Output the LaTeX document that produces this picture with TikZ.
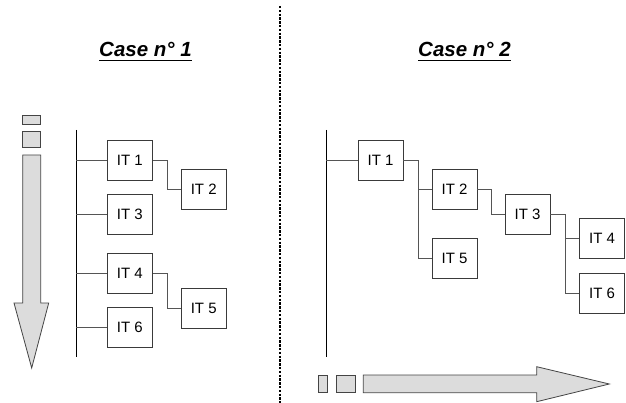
\documentclass[tikz,border=0pt]{standalone}
\usepackage{fontspec}
\setmainfont{Liberation Sans}
\definecolor{arrfill}{HTML}{DCDCDC}
\definecolor{arrline}{HTML}{444444}
\definecolor{boxline}{HTML}{3A3A3A}
\definecolor{conn}{HTML}{555555}
\begin{document}
\begin{tikzpicture}[x=1pt,y=-1pt,
  itbox/.style={draw=boxline, line width=0.9pt, minimum width=45pt, minimum height=40pt, inner sep=0pt, font=\fontsize{15}{16}\selectfont},
  wire/.style={draw=conn, line width=0.9pt},
  spine/.style={draw=black, line width=1pt},
  bigarrow/.style={draw=arrline, fill=arrfill, line width=0.8pt, line join=miter},
  title/.style={font=\fontsize{20.5}{22}\selectfont\bfseries\itshape, inner sep=0pt, anchor=base}
]
\useasboundingbox (0,0) rectangle (626,403);

% separator
\draw[black, line width=1.3pt, dash pattern=on 2.4pt off 1.4pt] (280,6) -- (280,403);

% titles
\node[title] (t1) at (145.5,57) {Case n° 1};
\node[title] (t2) at (464.5,57) {Case n° 2};
\draw[black, line width=1.4pt] ([yshift=-3.5pt]t1.base west) -- ([yshift=-3.5pt]t1.base east);
\draw[black, line width=1.4pt] ([yshift=-3.5pt]t2.base west) -- ([yshift=-3.5pt]t2.base east);

% ---------- Case 1 ----------
\draw[bigarrow] (22.7,115) rectangle (40.7,124);
\draw[bigarrow] (22.7,131) rectangle (40.7,147.7);
\draw[bigarrow] (22.7,155) -- (40.7,155) -- (40.7,303) -- (48.7,303) -- (31.7,368) -- (14,303) -- (22.7,303) -- cycle;

\coordinate (La) at (76,130);
\coordinate (Lb) at (76,357);
\draw[spine] (La) -- (Lb);

\node[itbox] (a1) at (129.8,160) {IT 1};
\node[itbox] (a2) at (203.7,189.5) {IT 2};
\node[itbox] (a3) at (129.8,214) {IT 3};
\node[itbox] (a4) at (129.8,273.3) {IT 4};
\node[itbox] (a5) at (203.7,308) {IT 5};
\node[itbox] (a6) at (129.8,327.7) {IT 6};

\draw[wire] (a1.west) -- (a1.west -| La);
\draw[wire] (a3.west) -- (a3.west -| La);
\draw[wire] (a4.west) -- (a4.west -| La);
\draw[wire] (a6.west) -- (a6.west -| La);
\draw[wire] (a1.east) -- ++(14.4,0) |- (a2.west);
\draw[wire] (a4.east) -- ++(14.4,0) |- (a5.west);

% ---------- Case 2 ----------
\coordinate (Ra) at (326,130);
\coordinate (Rb) at (326,356.7);
\draw[spine] (Ra) -- (Rb);

\node[itbox] (b1) at (380.5,160) {IT 1};
\node[itbox] (b2) at (454.5,189.7) {IT 2};
\node[itbox] (b5) at (454.5,258) {IT 5};
\node[itbox] (b3) at (527.5,214.7) {IT 3};
\node[itbox] (b4) at (602,238.8) {IT 4};
\node[itbox] (b6) at (602,293) {IT 6};

\draw[wire] (b1.west) -- (b1.west -| Ra);
\draw[wire] (b1.east) -- ++(14.6,0) coordinate (j1) |- (b5.west);
\draw[wire] (b2.west -| j1) -- (b2.west);
\draw[wire] (b2.east) -- ++(14.3,0) |- (b3.west);
\draw[wire] (b3.east) -- ++(15,0) coordinate (j3) |- (b6.west);
\draw[wire] (b4.west -| j3) -- (b4.west);

\draw[bigarrow] (318.3,375) rectangle (327.3,392.7);
\draw[bigarrow] (336.7,375) rectangle (355,392.7);
\draw[bigarrow] (363.3,375) -- (536.7,375) -- (536.7,366.7) -- (609.3,384) -- (536.7,401.7) -- (536.7,392.7) -- (363.3,392.7) -- cycle;
\end{tikzpicture}
\end{document}
